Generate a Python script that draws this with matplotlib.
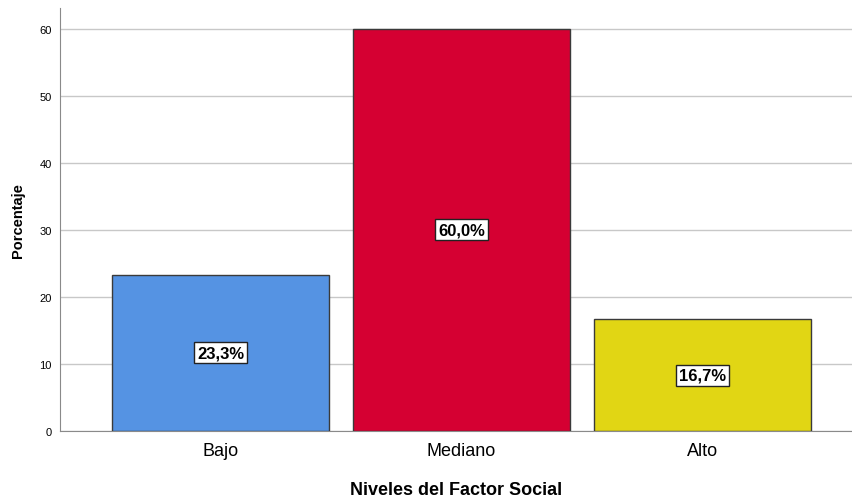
import matplotlib
matplotlib.use("Agg")
import matplotlib.pyplot as plt

plt.rcParams['font.family'] = ['Liberation Sans', 'DejaVu Sans']

categorias = ["Bajo", "Mediano", "Alto"]
porcentajes = [23.3, 60.0, 16.7]
etiquetas = ["23,3%", "60,0%", "16,7%"]
colores = ["#5593E3", "#D50032", "#E1D614"]

fig = plt.figure(figsize=(8.52, 5.02), dpi=100)
ax = fig.add_axes([60 / 852, 1 - 432 / 502, 792 / 852, 423 / 502])

x = list(range(len(categorias)))
ax.bar(x, porcentajes, width=0.9, color=colores, edgecolor="#3a3a3a", linewidth=1.0, zorder=3)

for xi, v, lab in zip(x, porcentajes, etiquetas):
    ax.text(xi, v / 2, lab, ha="center", va="center", fontsize=12, fontweight="bold",
            bbox=dict(boxstyle="square,pad=0.18", facecolor="white", edgecolor="#222222", linewidth=1.0),
            zorder=4)

ax.set_xlim(-0.666, 2.62)
ax.set_ylim(0, 63.1)
ax.set_yticks([0, 10, 20, 30, 40, 50, 60])
ax.set_xticks(x)
ax.set_xticklabels(categorias, fontsize=13)
ax.tick_params(axis="y", length=0, labelsize=8, pad=6)
ax.tick_params(axis="x", length=0, pad=8)
ax.yaxis.grid(True, color="#c8c8c8", linewidth=1.0, zorder=0)
ax.set_axisbelow(True)

for s in ["top", "right"]:
    ax.spines[s].set_visible(False)
ax.spines["left"].set_color("#8a8a8a")
ax.spines["bottom"].set_color("#8a8a8a")

ax.set_ylabel("Porcentaje", fontsize=10.5, fontweight="bold", labelpad=10)
ax.set_xlabel("Niveles del Factor Social", fontsize=13, fontweight="bold", labelpad=16)

fig.savefig("out.png", dpi=100)
